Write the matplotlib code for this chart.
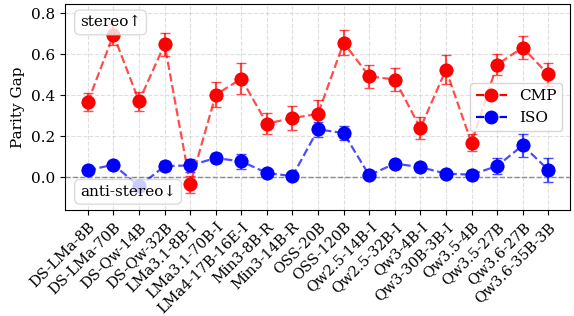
import numpy as np
import matplotlib.pyplot as plt

plt.rcParams['font.family'] = 'DejaVu Serif'

models = ['DS-LMa-8B', 'DS-LMa-70B', 'DS-Qw-14B', 'DS-Qw-32B', 'LMa3.1-8B-I',
          'LMa3.1-70B-I', 'LMa4-17B-16E-I', 'Min3-8B-R', 'Min3-14B-R', 'OSS-20B',
          'OSS-120B', 'Qw2.5-14B-I', 'Qw2.5-32B-I', 'Qw3-4B-I', 'Qw3-30B-3B-I',
          'Qw3.5-4B', 'Qw3.5-27B', 'Qw3.6-27B', 'Qw3.6-35B-3B']

cmp_gap = [0.367, 0.696, 0.371, 0.649, -0.034, 0.403, 0.481, 0.262, 0.289, 0.310,
           0.657, 0.493, 0.477, 0.240, 0.525, 0.169, 0.550, 0.633, 0.502]
cmp_err = [0.045, 0.05, 0.045, 0.055, 0.04, 0.06, 0.075, 0.05, 0.057, 0.065,
           0.06, 0.055, 0.055, 0.055, 0.07, 0.04, 0.052, 0.056, 0.055]

iso_gap = [0.034, 0.062, -0.044, 0.055, 0.058, 0.094, 0.078, 0.021, 0.006, 0.234,
           0.216, 0.010, 0.067, 0.050, 0.018, 0.013, 0.055, 0.156, 0.037]
iso_err = [0.015, 0.02, 0.025, 0.025, 0.03, 0.025, 0.037, 0.015, 0.012, 0.035,
           0.035, 0.015, 0.02, 0.02, 0.015, 0.025, 0.04, 0.057, 0.058]

x = np.arange(len(models))

fig = plt.figure(figsize=(5.74, 3.16), dpi=100)
ax = fig.add_axes([0.113, 0.335, 0.880, 0.652])

ax.errorbar(x, cmp_gap, yerr=cmp_err, fmt='o--', color='red', ms=9, lw=1.6,
            capsize=3.5, alpha=0.7, zorder=3)
ax.plot(x, cmp_gap, 'o', color='red', ms=9, zorder=4)
ax.errorbar(x, iso_gap, yerr=iso_err, fmt='o--', color='blue', ms=9, lw=1.6,
            capsize=3.5, alpha=0.7, zorder=3)
ax.plot(x, iso_gap, 'o', color='blue', ms=9, zorder=4)

# legend handles
h1, = ax.plot([], [], 'o--', color='red', ms=9, lw=1.6, label='CMP')
h2, = ax.plot([], [], 'o--', color='blue', ms=9, lw=1.6, label='ISO')
ax.legend(handles=[h1, h2], loc='center right', fontsize=11)

ax.axhline(0, color='gray', ls='--', lw=1, zorder=1)
ax.grid(True, ls='--', alpha=0.4)

box = dict(boxstyle='round,pad=0.35', facecolor='white', edgecolor='lightgray', alpha=0.8)
ax.text(0.03, 0.945, 'stereo\u2191', transform=ax.transAxes, fontsize=11,
        va='top', ha='left', bbox=box, zorder=6)
ax.text(0.03, 0.055, 'anti-stereo\u2193', transform=ax.transAxes, fontsize=11,
        va='bottom', ha='left', bbox=box, zorder=6)

ax.set_xticks(x)
ax.set_xticklabels(models, rotation=45, ha='right', rotation_mode='anchor', fontsize=10.5)
ax.tick_params(axis='y', labelsize=11)
ax.set_xlim(-0.9, 18.85)
ax.set_ylim(-0.16, 0.845)
ax.set_ylabel('Parity Gap', fontsize=11)

fig.savefig('out.png', dpi=100)
